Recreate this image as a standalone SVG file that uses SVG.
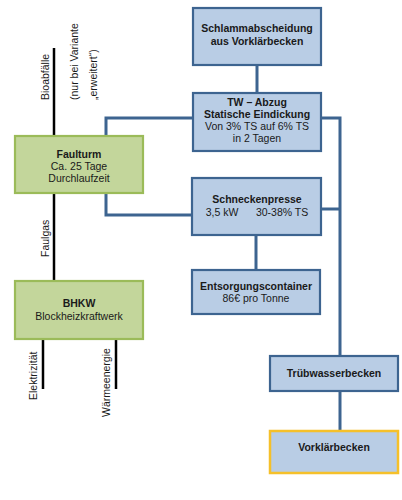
<svg xmlns="http://www.w3.org/2000/svg" width="402" height="500" viewBox="0 0 402 500">
<style>
.b{fill:#b9cde5;stroke:#3d6490;stroke-width:2.2}
.g{fill:#c3d69b;stroke:#9bbb59;stroke-width:2.2}
.y{fill:#b9cde5;stroke:#f5c02a;stroke-width:2.5}
.c{fill:none;stroke:#3d6490;stroke-width:3}
.k{fill:none;stroke:#000;stroke-width:2.5}
text{font-family:"Liberation Sans",Arial,sans-serif;font-size:10.5px;fill:#1a1a1a;text-anchor:middle}
.h{font-weight:bold}
.v{text-anchor:start;font-size:10.5px}
</style>
<rect width="402" height="500" fill="#fff"/>
<g id="connectors">
<path class="c" d="M257 65V93"/>
<path class="c" d="M193 118H106V136"/>
<path class="c" d="M106 193V215H192"/>
<path class="c" d="M321 118H340V356"/>
<path class="c" d="M321 209H340"/>
<path class="c" d="M256 235V270"/>
<path class="c" d="M340 391V431"/>
<path class="k" d="M54 48V136"/>
<path class="k" d="M54 193V281"/>
<path class="k" d="M43 339V389"/>
<path class="k" d="M116 339V389"/>
<text class="v" transform="translate(49 100) rotate(-90)">Bioabfälle</text>
<text class="v" transform="translate(78 100) rotate(-90)">(nur bei Variante</text>
<text class="v" transform="translate(97 100) rotate(-90)">„erweitert“)</text>
<text class="v" transform="translate(49 257) rotate(-90)">Faulgas</text>
<text class="v" transform="translate(37 400) rotate(-90)">Elektrizität</text>
<text class="v" transform="translate(110 417) rotate(-90)">Wärmeenergie</text>
</g>
<g id="schlamm"><rect class="b" x="193" y="8" width="128" height="57"/>
<text class="h" x="257" y="32">Schlammabscheidung</text><text class="h" x="257" y="45">aus Vorklärbecken</text></g>
<g id="tw"><rect class="b" x="193" y="93" width="128" height="58"/>
<text class="h" x="257" y="106">TW – Abzug</text><text class="h" x="257" y="118">Statische Eindickung</text>
<text x="257" y="130">Von 3% TS auf 6% TS</text><text x="257" y="142">in 2 Tagen</text></g>
<g id="faulturm"><rect class="g" x="15" y="136" width="128" height="57"/>
<text class="h" x="79" y="158">Faulturm</text><text x="79" y="170">Ca. 25 Tage</text><text x="79" y="182">Durchlaufzeit</text></g>
<g id="schnecke"><rect class="b" x="192" y="178" width="129" height="57"/>
<text class="h" x="257" y="203">Schneckenpresse</text><text x="257" y="216" xml:space="preserve">3,5 kW      30-38% TS</text></g>
<g id="entsorgung"><rect class="b" x="192" y="270" width="128" height="44"/>
<text class="h" x="256" y="290">Entsorgungscontainer</text><text x="256" y="302">86€ pro Tonne</text></g>
<g id="bhkw"><rect class="g" x="15" y="281" width="128" height="58"/>
<text class="h" x="79" y="307">BHKW</text><text x="79" y="320">Blockheizkraftwerk</text></g>
<g id="truebwasser"><rect class="b" x="270" y="356" width="128" height="35"/>
<text class="h" x="334" y="377">Trübwasserbecken</text></g>
<g id="vorklaer"><rect class="y" x="270" y="431" width="128" height="42"/>
<text class="h" x="334" y="451">Vorklärbecken</text></g>
</svg>
